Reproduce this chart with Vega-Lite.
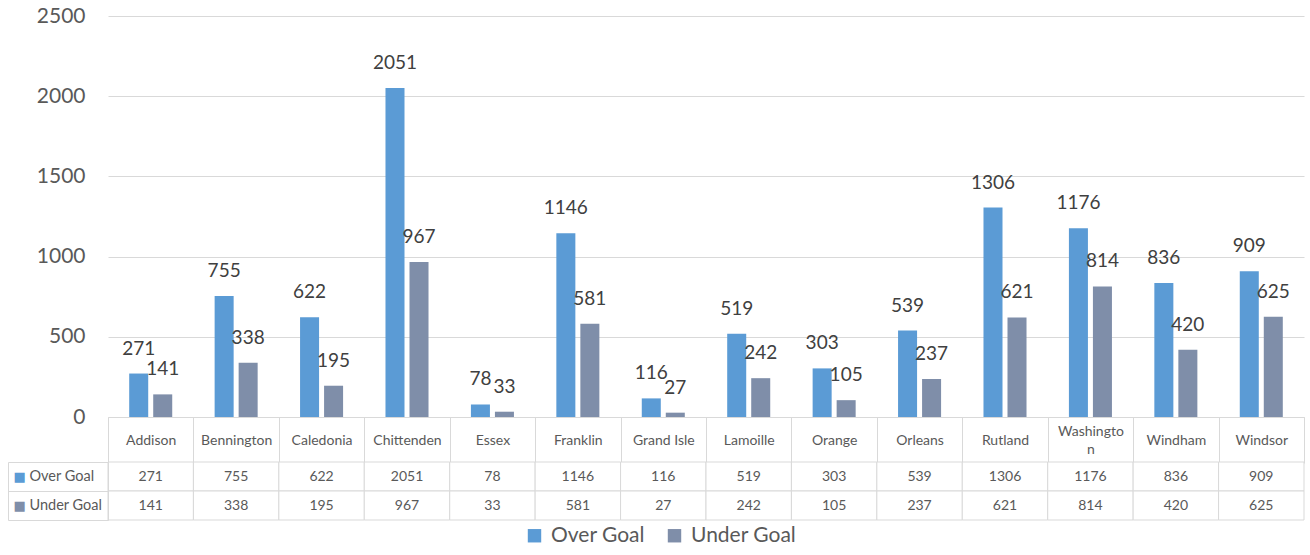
{
  "$schema": "https://vega.github.io/schema/vega-lite/v6.json",
  "background": "white",
  "padding": {"left": 7, "top": 5, "right": 7, "bottom": 0},
  "config": {"view": {"stroke": null}, "font": "Lato"},
  "bounds": "flush",
  "spacing": 45,
  "data": {"values": [
    {"county": "Addison", "series": "Over Goal", "value": 271},
    {"county": "Addison", "series": "Under Goal", "value": 141},
    {"county": "Bennington", "series": "Over Goal", "value": 755},
    {"county": "Bennington", "series": "Under Goal", "value": 338},
    {"county": "Caledonia", "series": "Over Goal", "value": 622},
    {"county": "Caledonia", "series": "Under Goal", "value": 195},
    {"county": "Chittenden", "series": "Over Goal", "value": 2051},
    {"county": "Chittenden", "series": "Under Goal", "value": 967},
    {"county": "Essex", "series": "Over Goal", "value": 78},
    {"county": "Essex", "series": "Under Goal", "value": 33},
    {"county": "Franklin", "series": "Over Goal", "value": 1146},
    {"county": "Franklin", "series": "Under Goal", "value": 581},
    {"county": "Grand Isle", "series": "Over Goal", "value": 116},
    {"county": "Grand Isle", "series": "Under Goal", "value": 27},
    {"county": "Lamoille", "series": "Over Goal", "value": 519},
    {"county": "Lamoille", "series": "Under Goal", "value": 242},
    {"county": "Orange", "series": "Over Goal", "value": 303},
    {"county": "Orange", "series": "Under Goal", "value": 105},
    {"county": "Orleans", "series": "Over Goal", "value": 539},
    {"county": "Orleans", "series": "Under Goal", "value": 237},
    {"county": "Rutland", "series": "Over Goal", "value": 1306},
    {"county": "Rutland", "series": "Under Goal", "value": 621},
    {"county": "Washington", "series": "Over Goal", "value": 1176},
    {"county": "Washington", "series": "Under Goal", "value": 814},
    {"county": "Windham", "series": "Over Goal", "value": 836},
    {"county": "Windham", "series": "Under Goal", "value": 420},
    {"county": "Windsor", "series": "Over Goal", "value": 909},
    {"county": "Windsor", "series": "Under Goal", "value": 625}
  ]},
  "vconcat": [
    {
      "width": 1196,
      "height": 401,
      "encoding": {
        "x": {
          "field": "county", "type": "nominal", "sort": null,
          "scale": {"paddingInner": 0, "paddingOuter": 0},
          "axis": {
            "title": null, "orient": "bottom",
            "domain": true, "domainColor": "#d9d9d9",
            "ticks": true, "tickBand": "extent", "tickSize": 46, "tickColor": "#d9d9d9",
            "labelPadding": {"condition": {"test": "datum.value == 'Washington'", "value": -32}, "value": -23},
            "labelBaseline": "middle", "labelAngle": 0,
            "labelFontSize": 14, "labelColor": "#595959", "labelOverlap": false,
            "labelLineHeight": 18,
            "labelExpr": "datum.value == 'Washington' ? ['Washingto', 'n'] : datum.value"
          }
        },
        "xOffset": {
          "field": "series", "type": "nominal", "sort": ["Over Goal", "Under Goal"],
          "scale": {"paddingInner": 0.208, "paddingOuter": 0.883}
        },
        "y": {
          "field": "value", "type": "quantitative",
          "scale": {"domain": [0, 2500]},
          "axis": {
            "title": null, "values": [0, 500, 1000, 1500, 2000, 2500], "format": "d",
            "grid": true, "gridColor": "#d9d9d9", "domain": false, "ticks": false,
            "labelPadding": 23, "labelFontSize": 21, "labelColor": "#595959"
          }
        },
        "color": {
          "field": "series", "type": "nominal",
          "scale": {"domain": ["Over Goal", "Under Goal"], "range": ["#5b9bd5", "#7f8ea9"]},
          "legend": {
            "title": null, "orient": "none", "direction": "horizontal",
            "legendX": 416, "legendY": 509,
            "symbolType": "square", "symbolSize": 180, "symbolStrokeWidth": 0,
            "labelFontSize": 21, "labelColor": "#595959", "labelOffset": 6,
            "columnPadding": 19
          }
        }
      },
      "layer": [
        {"mark": {"type": "bar"}},
        {
          "mark": {"type": "text", "dy": -19, "baseline": "alphabetic", "fontSize": 19},
          "encoding": {
            "text": {"field": "value", "type": "quantitative", "format": "d"},
            "color": {"value": "#404040"}
          }
        }
      ]
    },
    {
      "width": 1196,
      "height": 58,
      "encoding": {
        "x": {
          "field": "county", "type": "nominal", "sort": null,
          "scale": {"paddingInner": 0, "paddingOuter": 0},
          "axis": null
        }
      },
      "layer": [
        {
          "mark": {"type": "rect", "fill": "white", "stroke": "#d9d9d9", "strokeWidth": 1},
          "encoding": {
            "y": {
              "field": "series", "type": "nominal", "sort": ["Over Goal", "Under Goal"],
              "scale": {"paddingInner": 0, "paddingOuter": 0},
              "axis": {
                "title": null, "orient": "left",
                "domain": true, "domainColor": "#d9d9d9",
                "ticks": true, "tickBand": "extent", "tickSize": 100, "tickColor": "#d9d9d9",
                "labelAlign": "left", "labelBaseline": "middle", "labelPadding": -21,
                "labelFontSize": 14.5, "labelColor": "#595959", "grid": false
              }
            }
          }
        },
        {
          "mark": {"type": "text", "fontSize": 14, "color": "#595959"},
          "encoding": {
            "y": {"field": "series", "type": "nominal", "sort": ["Over Goal", "Under Goal"], "axis": null},
            "text": {"field": "value", "type": "quantitative", "format": "d"}
          }
        },
        {
          "mark": {"type": "rect", "opacity": 0},
          "encoding": {
            "y": {
              "field": "series", "type": "nominal", "sort": ["Over Goal", "Under Goal"],
              "axis": {
                "title": null, "orient": "left", "offset": 100,
                "domain": true, "domainColor": "#d9d9d9", "ticks": false, "grid": false,
                "labelExpr": "'■'", "labelAlign": "left", "labelBaseline": "middle",
                "labelPadding": -5, "labelFont": "DejaVu Sans", "labelFontSize": 13,
                "labelColor": {"condition": {"test": "datum.value == 'Over Goal'", "value": "#5b9bd5"}, "value": "#7f8ea9"}
              }
            }
          }
        }
      ],
      "resolve": {"axis": {"y": "independent"}}
    }
  ]
}
